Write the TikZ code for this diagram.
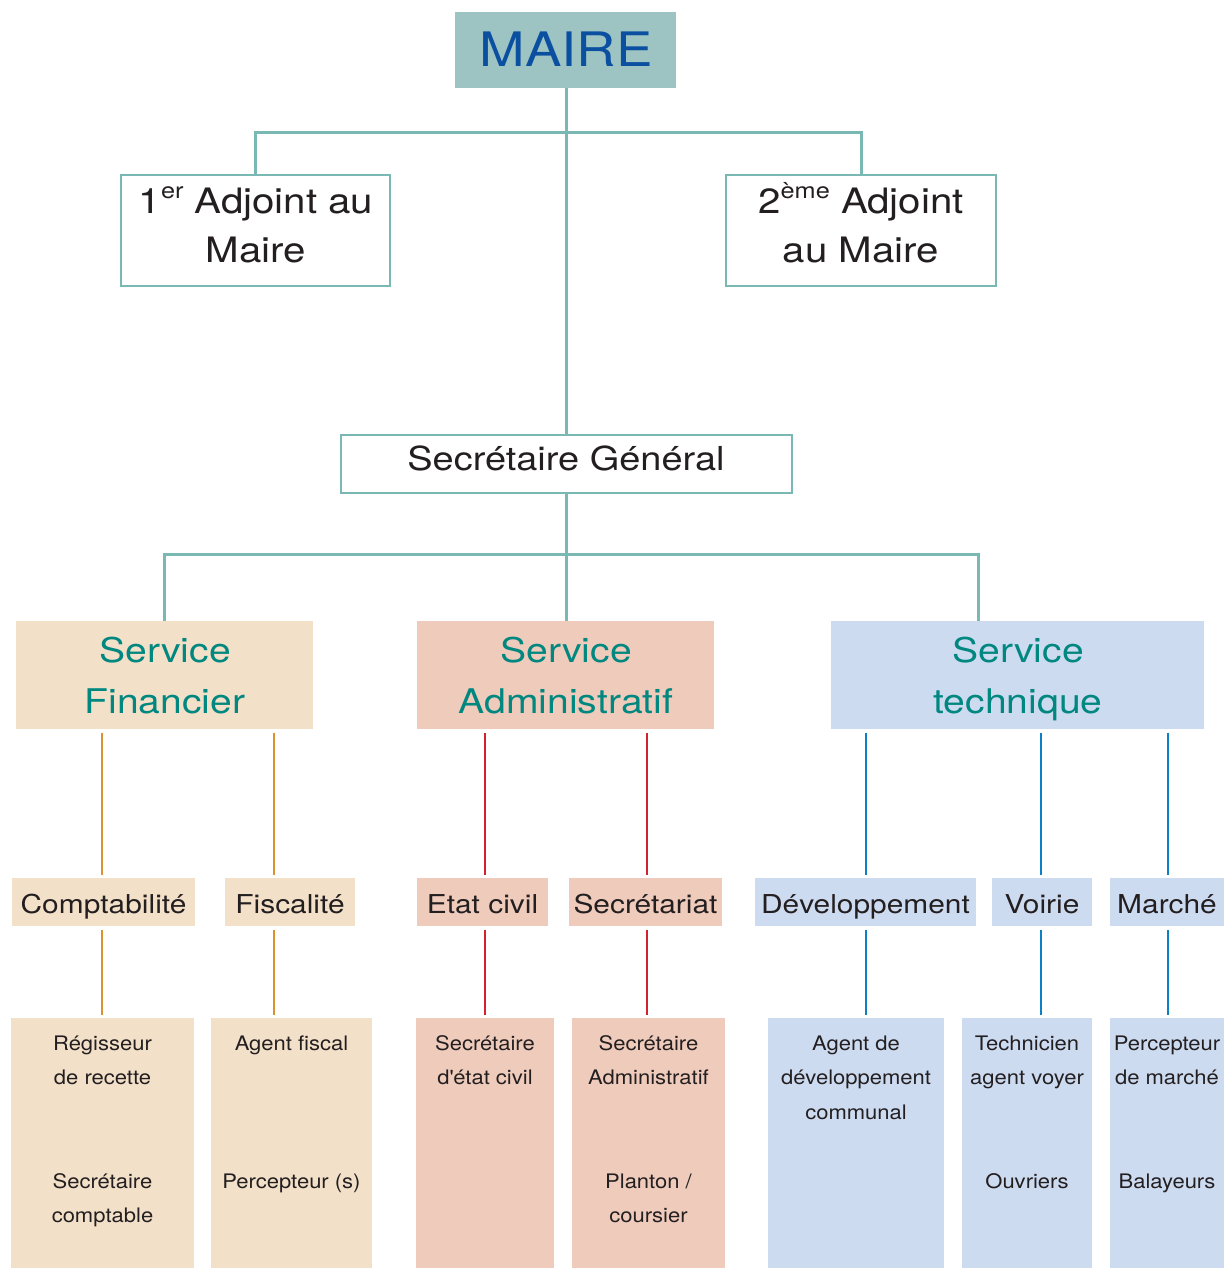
\documentclass[tikz,border=0pt]{standalone}
\usepackage{fontspec}
\setmainfont{TeX Gyre Heros}
\newfontfamily\widefont{TeX Gyre Heros}[FakeStretch=1.15]
\newfontfamily\btfont{TeX Gyre Heros}[FakeStretch=1.1]
\definecolor{maireFill}{HTML}{9DC4C3}
\definecolor{maireText}{HTML}{0A4FA0}
\definecolor{tealLine}{HTML}{7AB8B3}
\definecolor{tealText}{HTML}{00877F}
\definecolor{finFill}{HTML}{F3E0C9}
\definecolor{finLine}{HTML}{D9922E}
\definecolor{admFill}{HTML}{EFCBBB}
\definecolor{admLine}{HTML}{D2222D}
\definecolor{tecFill}{HTML}{CDDBF1}
\definecolor{tecLine}{HTML}{0C80C4}
\definecolor{darkText}{HTML}{231F20}
\tikzset{
  bx/.style={rectangle, inner sep=0pt, outer sep=0pt},
  obox/.style={bx, draw=tealLine, line width=2.5pt, fill=white},
  tline/.style={draw=tealLine, line width=3pt},
  subline/.style={line width=2.5pt, shorten <=3.5pt, shorten >=3pt},
  txt/.style={anchor=base, inner sep=0pt, text=darkText},
}
\newcommand{\fs}[1]{\fontsize{#1}{#1}\selectfont}
\begin{document}
\begin{tikzpicture}[x=1pt,y=-1pt]
\useasboundingbox (0,0) rectangle (1224,1268);
% boxes
\node[bx, fill=maireFill, minimum width=221, minimum height=76] (maire) at (565.5,50) {};
\node[obox, minimum width=269, minimum height=111] (adj1) at (255.5,230.5) {};
\node[obox, minimum width=270, minimum height=111] (adj2) at (861,230.5) {};
\node[obox, minimum width=451, minimum height=58] (sg) at (566.5,464) {};
\node[bx, fill=finFill, minimum width=297, minimum height=108] (sfin) at (164.5,675) {};
\node[bx, fill=admFill, minimum width=297, minimum height=108] (sadm) at (565.5,675) {};
\node[bx, fill=tecFill, minimum width=373, minimum height=108] (stec) at (1017.5,675) {};
% mid boxes
\node[bx, fill=finFill, minimum width=183, minimum height=48] (compt) at (103.5,902) {};
\node[bx, fill=finFill, minimum width=130, minimum height=48] (fisc) at (290,902) {};
\node[bx, fill=admFill, minimum width=131, minimum height=48] (etat) at (482.5,902) {};
\node[bx, fill=admFill, minimum width=153, minimum height=48] (secr) at (645.5,902) {};
\node[bx, fill=tecFill, minimum width=221, minimum height=48] (dev) at (865.5,902) {};
\node[bx, fill=tecFill, minimum width=100, minimum height=48] (voir) at (1042,902) {};
\node[bx, fill=tecFill, minimum width=114, minimum height=48] (march) at (1167,902) {};
% bottom boxes
\node[bx, fill=finFill, minimum width=183, minimum height=250] (b1) at (102.5,1143) {};
\node[bx, fill=finFill, minimum width=161, minimum height=250] (b2) at (291.5,1143) {};
\node[bx, fill=admFill, minimum width=138, minimum height=250] (b3) at (485,1143) {};
\node[bx, fill=admFill, minimum width=153, minimum height=250] (b4) at (648.5,1143) {};
\node[bx, fill=tecFill, minimum width=176, minimum height=250] (b5) at (856,1143) {};
\node[bx, fill=tecFill, minimum width=130, minimum height=250] (b6) at (1027,1143) {};
\node[bx, fill=tecFill, minimum width=114, minimum height=250] (b7) at (1167,1143) {};
% junction coordinates
\coordinate (j1) at (566,133);
\coordinate (j2) at (566,554);
\coordinate (t3) at (978,621);
\coordinate (x1) at (102,0);
\coordinate (x2) at (274,0);
\coordinate (x3) at (485,0);
\coordinate (x4) at (647,0);
\coordinate (x5) at (866,0);
\coordinate (x6) at (1041,0);
\coordinate (x7) at (1168,0);
% teal connectors
\draw[tline] (maire.south -| j1) -- (sg.north -| j1);
\draw[tline] (adj1.north) |- (j1) -| (adj2.north);
\draw[tline] (sg.south -| j2) -- (sadm.north -| j2);
\draw[tline] (sfin.north) |- (j2) -| (t3);
% sub connectors
\draw[subline, draw=finLine] (sfin.south -| x1) -- (compt.north -| x1);
\draw[subline, draw=finLine] (compt.south -| x1) -- (b1.north -| x1);
\draw[subline, draw=finLine] (sfin.south -| x2) -- (fisc.north -| x2);
\draw[subline, draw=finLine] (fisc.south -| x2) -- (b2.north -| x2);
\draw[subline, draw=admLine] (sadm.south -| x3) -- (etat.north -| x3);
\draw[subline, draw=admLine] (etat.south -| x3) -- (b3.north -| x3);
\draw[subline, draw=admLine] (sadm.south -| x4) -- (secr.north -| x4);
\draw[subline, draw=admLine] (secr.south -| x4) -- (b4.north -| x4);
\draw[subline, draw=tecLine] (stec.south -| x5) -- (dev.north -| x5);
\draw[subline, draw=tecLine] (dev.south -| x5) -- (b5.north -| x5);
\draw[subline, draw=tecLine] (stec.south -| x6) -- (voir.north -| x6);
\draw[subline, draw=tecLine] (voir.south -| x6) -- (b6.north -| x6);
\draw[subline, draw=tecLine] (stec.south -| x7) -- (march.north -| x7);
\draw[subline, draw=tecLine] (march.south -| x7) -- (b7.north -| x7);
% texts top
\node[txt, text=maireText, font=\widefont\fs{47.5}] (tmaire) at (566,67) {MAIRE};
\node[txt, font=\widefont\fs{35}] (ta1a) at (256,213) {1\raisebox{0.42em}{\fs{22}er} Adjoint au};
\node[txt, font=\widefont\fs{35}] (ta1b) at (256,262) {Maire};
\node[txt, font=\widefont\fs{35}] (ta2a) at (861,213) {2\raisebox{0.42em}{\fs{22}ème} Adjoint};
\node[txt, font=\widefont\fs{35}] (ta2b) at (861,262) {au Maire};
\node[txt, font=\widefont\fs{33}] (tsg) at (566,470) {Secrétaire Général};
\node[txt, text=tealText, font=\widefont\fs{34}] (tf1) at (165,662) {Service};
\node[txt, text=tealText, font=\widefont\fs{34}] (tf2) at (165,713) {Financier};
\node[txt, text=tealText, font=\widefont\fs{34}] (ta1) at (566,662) {Service};
\node[txt, text=tealText, font=\widefont\fs{34}] (ta2) at (566,713) {Administratif};
\node[txt, text=tealText, font=\widefont\fs{34}] (tt1) at (1018,662) {Service};
\node[txt, text=tealText, font=\widefont\fs{34}] (tt2) at (1018,713) {technique};
% mid texts
\tikzset{midtxt/.style={txt, font=\widefont\fs{26}}}
\node[midtxt] at (103.5,913) {Comptabilité};
\node[midtxt] at (290,913) {Fiscalité};
\node[midtxt] at (482.5,913) {Etat civil};
\node[midtxt] at (645.5,913) {Secrétariat};
\node[midtxt] at (865.5,913) {Développement};
\node[midtxt] at (1042,913) {Voirie};
\node[midtxt] at (1167,913) {Marché};
% bottom texts
\tikzset{bt/.style={txt, font=\btfont\fs{20}}}
\node[bt] at (102.5,1050) {Régisseur};
\node[bt] at (102.5,1084.5) {de recette};
\node[bt] at (102.5,1188) {Secrétaire};
\node[bt] at (102.5,1222.5) {comptable};
\node[bt] at (291.5,1050) {Agent fiscal};
\node[bt] at (291.5,1188) {Percepteur (s)};
\node[bt] at (485,1050) {Secrétaire};
\node[bt] at (485,1084.5) {d\textquotesingle état civil};
\node[bt] at (648.5,1050) {Secrétaire};
\node[bt] at (648.5,1084.5) {Administratif};
\node[bt] at (648.5,1188) {Planton /};
\node[bt] at (648.5,1222.5) {coursier};
\node[bt] at (856,1050) {Agent de};
\node[bt] at (856,1084.5) {développement};
\node[bt] at (856,1119) {communal};
\node[bt] at (1027,1050) {Technicien};
\node[bt] at (1027,1084.5) {agent voyer};
\node[bt] at (1027,1188) {Ouvriers};
\node[bt] at (1167,1050) {Percepteur};
\node[bt] at (1167,1084.5) {de marché};
\node[bt] at (1167,1188) {Balayeurs};
\end{tikzpicture}
\end{document}
